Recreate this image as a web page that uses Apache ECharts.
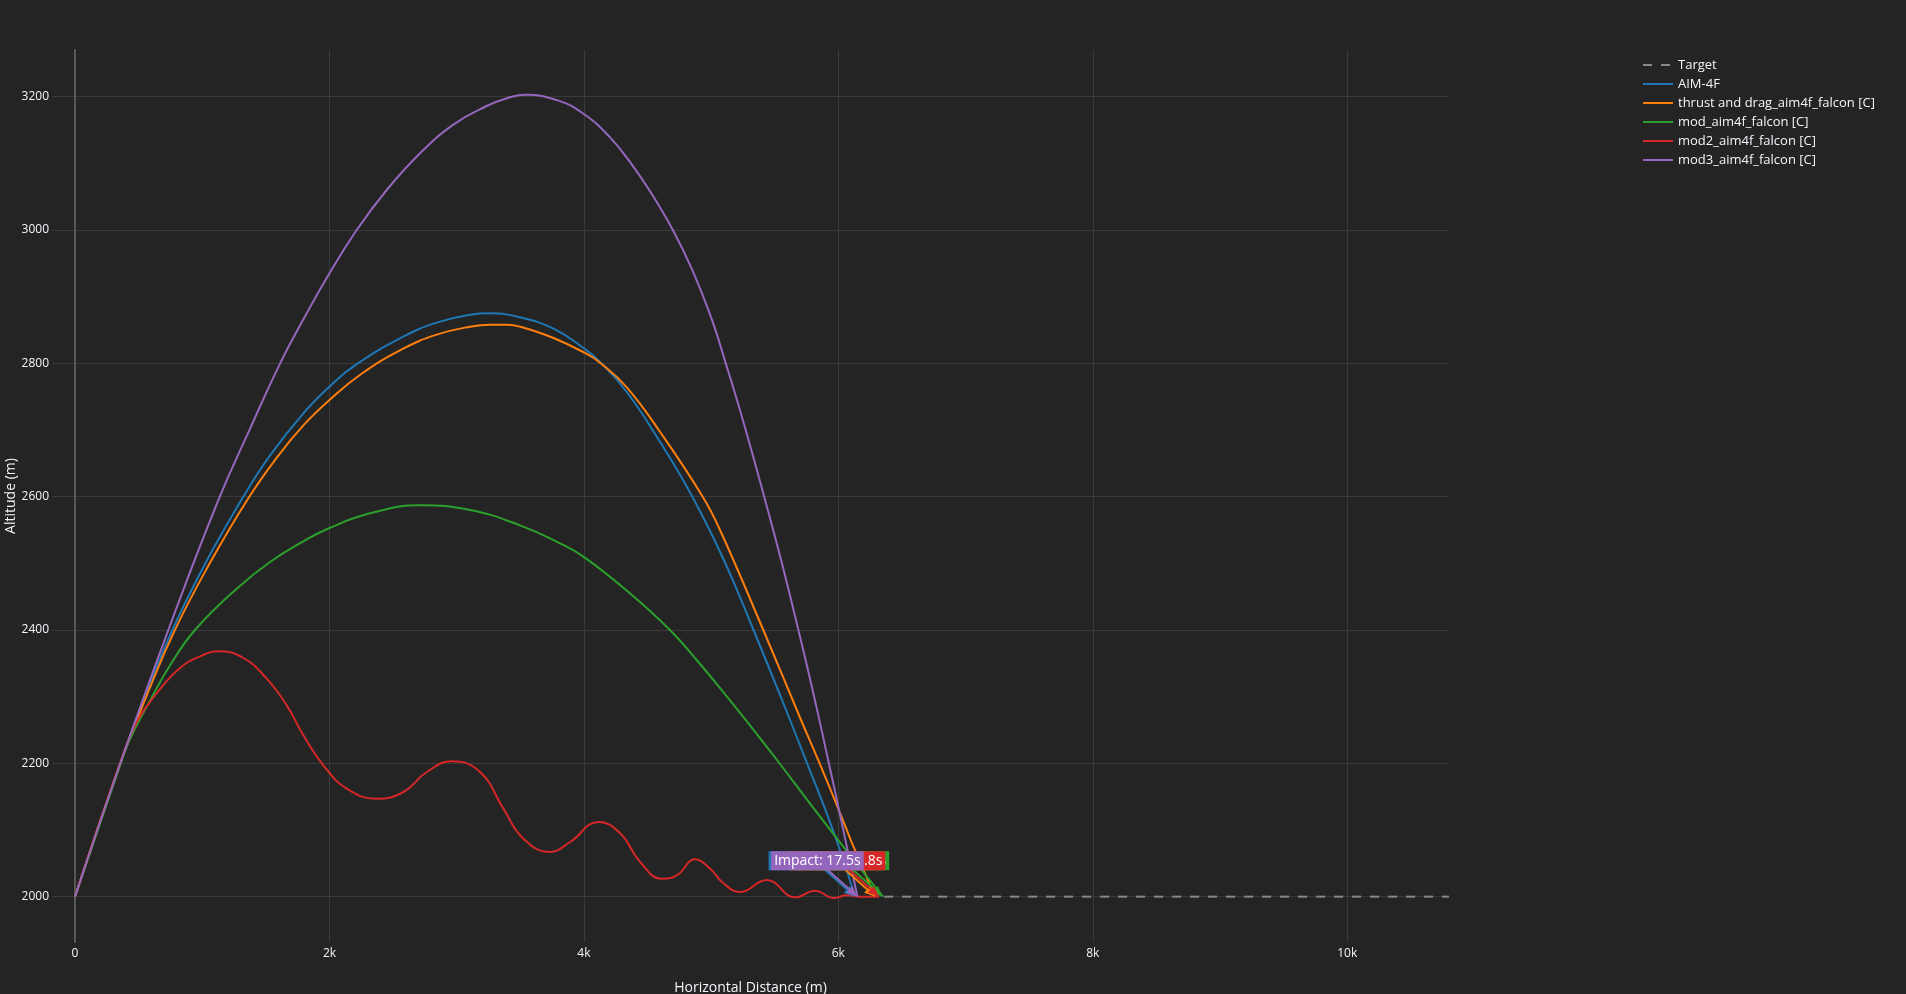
<!DOCTYPE html>
<html>
<head>
<meta charset="utf-8">
<script src="https://cdn.jsdelivr.net/npm/echarts@6/dist/echarts.min.js"></script>
<style>
html,body{margin:0;padding:0;background:#242424;}
#chart{width:1906px;height:994px;}
</style>
</head>
<body>
<div id="chart"></div>
<script>
// ---------- data (metres) ----------
const seriesNames = ['Target', 'AIM-4F', 'thrust and drag_aim4f_falcon [C]', 'mod_aim4f_falcon [C]', 'mod2_aim4f_falcon [C]', 'mod3_aim4f_falcon [C]'];
const seriesColors = ['#888888', '#1f77b4', '#ff7f0e', '#2ca02c', '#d62728', '#9467bd'];

const target = [[6360, 2000], [10800, 2000]];

const aim4f = [[0,2000],[354,2199],[560,2305],[760,2398],[1030,2502],[1323,2600],[1533,2662],[1795,2725],[2000,2765],[2200,2797],[2580,2840],[2843,2861],[3105,2873],[3263,2875],[3498,2869],[3761,2852],[4004,2822],[4127,2802],[4337,2757],[4599,2682],[4861,2597],[5100,2505],[5333,2400],[5595,2277],[5752,2201],[5909,2125],[6040,2055],[6130,2000]];

const thrustDrag = [[0,2000],[354,2199],[560,2300],[780,2398],[1050,2497],[1350,2594],[1600,2662],[1800,2708],[2000,2745],[2250,2784],[2580,2822],[2843,2843],[3105,2855],[3263,2858],[3400,2858],[3498,2855],[3761,2838],[4004,2816],[4127,2801],[4337,2764],[4599,2697],[4934,2600],[5070,2550],[5410,2400],[5700,2268],[5857,2198],[6014,2125],[6119,2075],[6290,2000]];

const mod = [[0,2000],[354,2197],[406,2225],[480,2255],[563,2285],[747,2347],[943,2400],[1271,2462],[1533,2502],[1795,2533],[2000,2553],[2319,2575],[2712,2587],[3105,2580],[3498,2557],[3813,2530],[4004,2509],[4337,2459],[4676,2400],[4900,2352],[5150,2294],[5350,2246],[5530,2202],[5800,2134],[6100,2060],[6350,2000]];

const mod2 = [[0,2000],[354,2200],[485,2262],[642,2305],[825,2343],[1000,2362],[1127,2368],[1323,2358],[1507,2327],[1664,2287],[1795,2242],[1952,2197],[2136,2162],[2372,2147],[2581,2157],[2765,2187],[2962,2203],[3184,2187],[3367,2132],[3525,2087],[3734,2067],[3891,2082],[4115,2112],[4285,2095],[4442,2052],[4612,2027],[4730,2032],[4874,2056],[4992,2042],[5097,2020],[5227,2007],[5438,2025],[5661,1999],[5818,2009],[5962,1998],[6067,2002],[6170,2000],[6320,2000]];

const mod3 = [[0,2000],[354,2199],[747,2407],[1127,2595],[1376,2702],[1612,2800],[1795,2866],[2000,2935],[2214,3000],[2450,3060],[2712,3115],[2974,3158],[3236,3186],[3400,3198],[3538,3203],[3800,3194],[4000,3174],[4200,3140],[4370,3100],[4530,3055],[4699,3000],[4850,2941],[5000,2869],[5115,2800],[5260,2708],[5417,2600],[5550,2505],[5686,2400],[5800,2308],[5920,2205],[6030,2108],[6150,2000]];

const impactTexts = ['Impact: 17.3s', 'Impact: 17.9s', 'Impact: 18.3s', 'Impact: 18.8s', 'Impact: 17.5s'];

const xTicks = [0, 2000, 4000, 6000, 8000, 10000];
const yTicks = [2000, 2200, 2400, 2600, 2800, 3000, 3200];

// ---------- chart ----------
const missiles = [aim4f, thrustDrag, mod, mod2, mod3];
const allSeriesData = [target].concat(missiles);
const TEXT = '#f2f5fa';
const FONT = '"Open Sans", "DejaVu Sans", sans-serif';
const ANN_DX = -40, ANN_DY = -36;

const chart = echarts.init(document.getElementById('chart'), null, {renderer: 'canvas'});

const lineSeries = allSeriesData.map((d, i) => ({
  name: seriesNames[i],
  type: 'line',
  data: d,
  symbol: 'none',
  smooth: i === 0 ? false : 0.45,
  lineStyle: {color: seriesColors[i], width: 2, type: i === 0 ? [9, 9] : 'solid'},
  itemStyle: {color: seriesColors[i]},
  z: 2 + i,
  silent: true
}));

const impacts = missiles.map((d, i) => [d[d.length - 1][0], d[d.length - 1][1], i]);

const annotationSeries = {
  type: 'custom',
  coordinateSystem: 'cartesian2d',
  data: impacts,
  encode: {x: 0, y: 1},
  clip: false,
  silent: true,
  z: 20,
  renderItem: function (params, api) {
    const i = params.dataIndex;
    const tip = api.coord([api.value(0), api.value(1)]);
    const color = seriesColors[i + 1];
    const bx = tip[0] + ANN_DX, by = tip[1] + ANN_DY;
    const ang = Math.atan2(tip[1] - by, tip[0] - bx);
    const headLen = 11, headW = 4.5;
    const baseX = tip[0] - headLen * Math.cos(ang), baseY = tip[1] - headLen * Math.sin(ang);
    const px = -Math.sin(ang) * headW, py = Math.cos(ang) * headW;
    return {
      type: 'group',
      children: [
        {type: 'line', shape: {x1: bx, y1: by, x2: baseX, y2: baseY}, style: {stroke: color, lineWidth: 2}},
        {type: 'polygon', shape: {points: [[tip[0], tip[1]], [baseX + px, baseY + py], [baseX - px, baseY - py]]}, style: {fill: color}},
        {type: 'text', x: bx, y: by, style: {
          text: impactTexts[i], fill: '#ffffff', font: '14px ' + FONT,
          align: 'center', verticalAlign: 'middle', backgroundColor: color, padding: [2, 3, 3, 3]
        }}
      ]
    };
  }
};

const option = {
  backgroundColor: '#242424',
  animation: false,
  textStyle: {fontFamily: FONT},
  grid: {left: 52, right: 457, top: 50, bottom: 52, containLabel: false, outerBoundsMode: 'none'},
  legend: {
    data: seriesNames,
    orient: 'vertical',
    left: 1642,
    top: 58,
    padding: 0,
    itemWidth: 30,
    itemHeight: 14,
    itemGap: 5,
    itemStyle: {opacity: 0},
    textStyle: {color: TEXT, fontSize: 13, fontFamily: FONT, lineHeight: 14},
    selectedMode: false
  },
  xAxis: {
    type: 'value',
    min: -181,
    max: 10800,
    axisLine: {show: false},
    axisTick: {show: false, customValues: xTicks},
    axisLabel: {
      customValues: xTicks,
      color: TEXT, fontSize: 12, margin: 6,
      formatter: v => v === 0 ? '0' : (v / 1000) + 'k'
    },
    splitLine: {show: true, lineStyle: {color: '#3a3a3a', width: 1}},
    name: 'Horizontal Distance (m)',
    nameLocation: 'middle',
    nameGap: 39,
    nameMoveOverlap: false,
    nameTextStyle: {color: TEXT, fontSize: 14}
  },
  yAxis: {
    type: 'value',
    min: 1932,
    max: 3270,
    axisLine: {show: true, onZero: true, lineStyle: {color: '#585858', width: 2}},
    axisTick: {show: false, customValues: yTicks},
    axisLabel: {customValues: yTicks, color: TEXT, fontSize: 12, margin: 3, formatter: v => String(v)},
    splitLine: {show: true, lineStyle: {color: '#3a3a3a', width: 1}},
    name: 'Altitude (m)',
    nameLocation: 'middle',
    nameGap: 34,
    nameMoveOverlap: false,
    nameTextStyle: {color: TEXT, fontSize: 14}
  },
  series: lineSeries.concat([annotationSeries])
};

chart.setOption(option);
</script>
</body>
</html>
